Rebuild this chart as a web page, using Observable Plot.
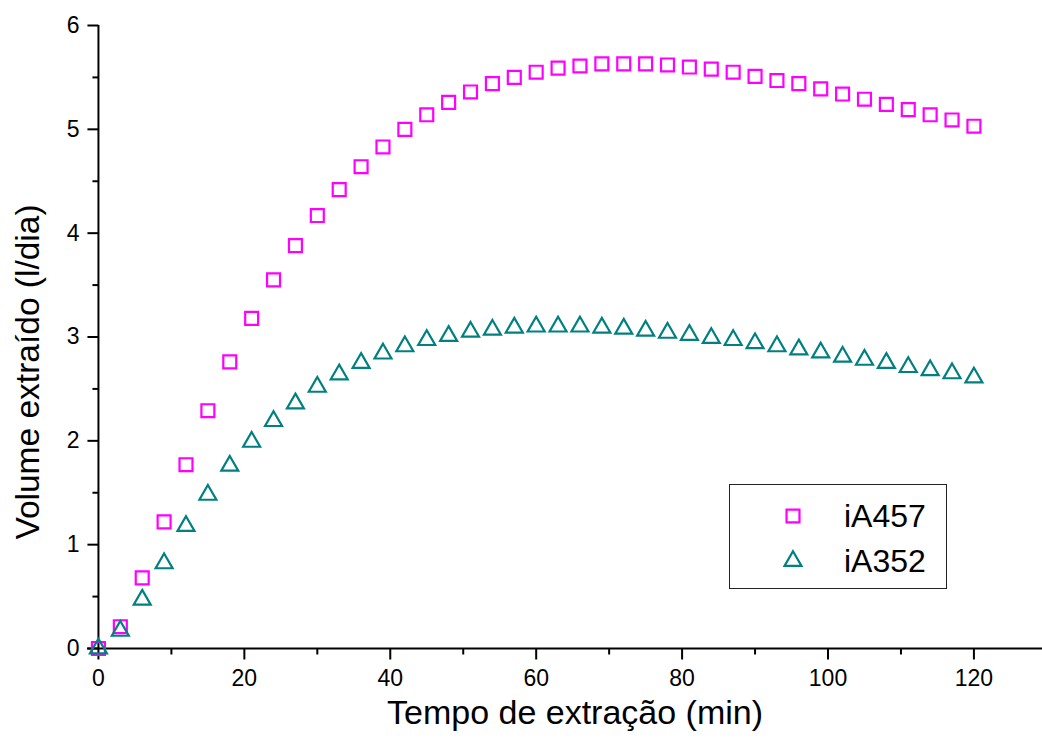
<!DOCTYPE html>
<html><head><meta charset="utf-8">
<script src="https://cdn.jsdelivr.net/npm/d3@7"></script>
<script src="https://cdn.jsdelivr.net/npm/@observablehq/plot@0.6"></script>
<style>
body{margin:0;background:#fff;overflow:hidden;font-family:"Liberation Sans",Arial,sans-serif;}
#wrap{position:relative;width:1042px;height:744px;}
#legend{position:absolute;left:729px;top:484px;width:216px;height:103px;border:1.6px solid #222;background:#fff;}
.item{position:absolute;left:0;height:40px;width:216px;}
.item svg{position:absolute;left:48px;top:5px;}
.item span{position:absolute;left:114px;top:1px;font-size:32px;line-height:38px;color:#000;}
</style></head><body><div id="wrap"></div>
<script>
const times = [0,3,6,9,12,15,18,21,24,27,30,33,36,39,42,45,48,51,54,57,60,63,66,69,72,75,78,81,84,87,90,93,96,99,102,105,108,111,114,117,120];
const iA457 = [0,0.21,0.68,1.22,1.77,2.29,2.76,3.18,3.55,3.88,4.17,4.42,4.64,4.83,5.00,5.14,5.26,5.36,5.44,5.50,5.55,5.59,5.61,5.63,5.63,5.63,5.62,5.60,5.58,5.55,5.51,5.47,5.44,5.39,5.34,5.29,5.24,5.19,5.14,5.09,5.03];
const iA352 = [0,0.17,0.47,0.82,1.18,1.48,1.76,1.99,2.19,2.36,2.52,2.64,2.75,2.84,2.91,2.97,3.01,3.05,3.07,3.09,3.10,3.10,3.10,3.09,3.08,3.06,3.04,3.02,2.99,2.97,2.94,2.91,2.88,2.85,2.81,2.78,2.75,2.71,2.68,2.65,2.61];
const seriesNames = ["iA457","iA352"];
const seriesColors = ["#ff00ff","#008080"];
const seriesSymbols = ["square","triangle"];
const seriesRadius = [7.3,6.3];
const yMajor = [0,1,2,3,4,5,6];
const yMinor = [0.5,1.5,2.5,3.5,4.5,5.5];
const xMajor = [0,20,40,60,80,100,120];
const xMinor = [10,30,50,70,90,110];
const xTitle = "Tempo de extração (min)";
const yTitle = "Volume extraído (l/dia)";

const seriesValues = [iA457, iA352];
const tickSym = (dx, dy) => ({draw(ctx){ctx.moveTo(0,0);ctx.lineTo(dx,dy);}});
const font = "Liberation Sans, Arial, sans-serif";

const dotMarks = seriesNames.map((name, k) => Plot.dot(times.map((t,i)=>({t, v: seriesValues[k][i]})), {
  x: "t", y: "v", symbol: seriesSymbols[k], r: seriesRadius[k], stroke: seriesColors[k], strokeWidth: 2.2, fill: "none"
}));

const chart = Plot.plot({
  width: 1042, height: 744,
  marginLeft: 87, marginRight: 0, marginTop: 25, marginBottom: 96,
  x: {domain: [-1.5, 129.4], axis: null},
  y: {domain: [0, 6], axis: null},
  style: {fontFamily: font, background: "white", color: "black"},
  marks: [
    Plot.ruleX([0], {stroke: "black", strokeWidth: 2}),
    Plot.ruleY([0], {stroke: "black", strokeWidth: 2}),
    Plot.dot(yMajor, {x: () => 0, y: d => d, symbol: tickSym(-11, 0), stroke: "black", strokeWidth: 2, fill: "none"}),
    Plot.dot(yMinor, {x: () => 0, y: d => d, symbol: tickSym(-6, 0), stroke: "black", strokeWidth: 2, fill: "none"}),
    Plot.dot(xMajor, {x: d => d, y: () => 0, symbol: tickSym(0, 11), stroke: "black", strokeWidth: 2, fill: "none"}),
    Plot.dot(xMinor, {x: d => d, y: () => 0, symbol: tickSym(0, 6), stroke: "black", strokeWidth: 2, fill: "none"}),
    Plot.text(yMajor, {x: () => 0, y: d => d, text: d => String(d), textAnchor: "end", dx: -19, fontSize: 23, fill: "black"}),
    Plot.text(xMajor, {x: d => d, y: () => 0, text: d => String(d), dy: 30, fontSize: 23, fill: "black"}),
    Plot.text([xTitle], {frameAnchor: "bottom", text: d => d, textAnchor: "middle", dy: 75, dx: 10, fontSize: 34, fill: "black"}),
    Plot.text([yTitle], {frameAnchor: "left", text: d => d, textAnchor: "middle", rotate: -90, dx: -59, dy: 35, fontSize: 33.5, fill: "black"}),
    ...dotMarks
  ]
});
const wrap = document.getElementById("wrap");
wrap.appendChild(chart);

const legend = document.createElement("div");
legend.id = "legend";
seriesNames.forEach((name, k) => {
  const item = document.createElement("div");
  item.className = "item";
  item.style.top = (k === 0 ? 11 : 56) + "px";
  const sym = d3.symbol(k === 0 ? d3.symbolSquare : d3.symbolTriangle, Math.PI * seriesRadius[k] ** 2)();
  item.innerHTML = `<svg width="30" height="30" viewBox="-15 -15 30 30"><path d="${sym}" fill="none" stroke="${seriesColors[k]}" stroke-width="2.2"/></svg><span>${name}</span>`;
  legend.appendChild(item);
});
wrap.appendChild(legend);
</script></body></html>
